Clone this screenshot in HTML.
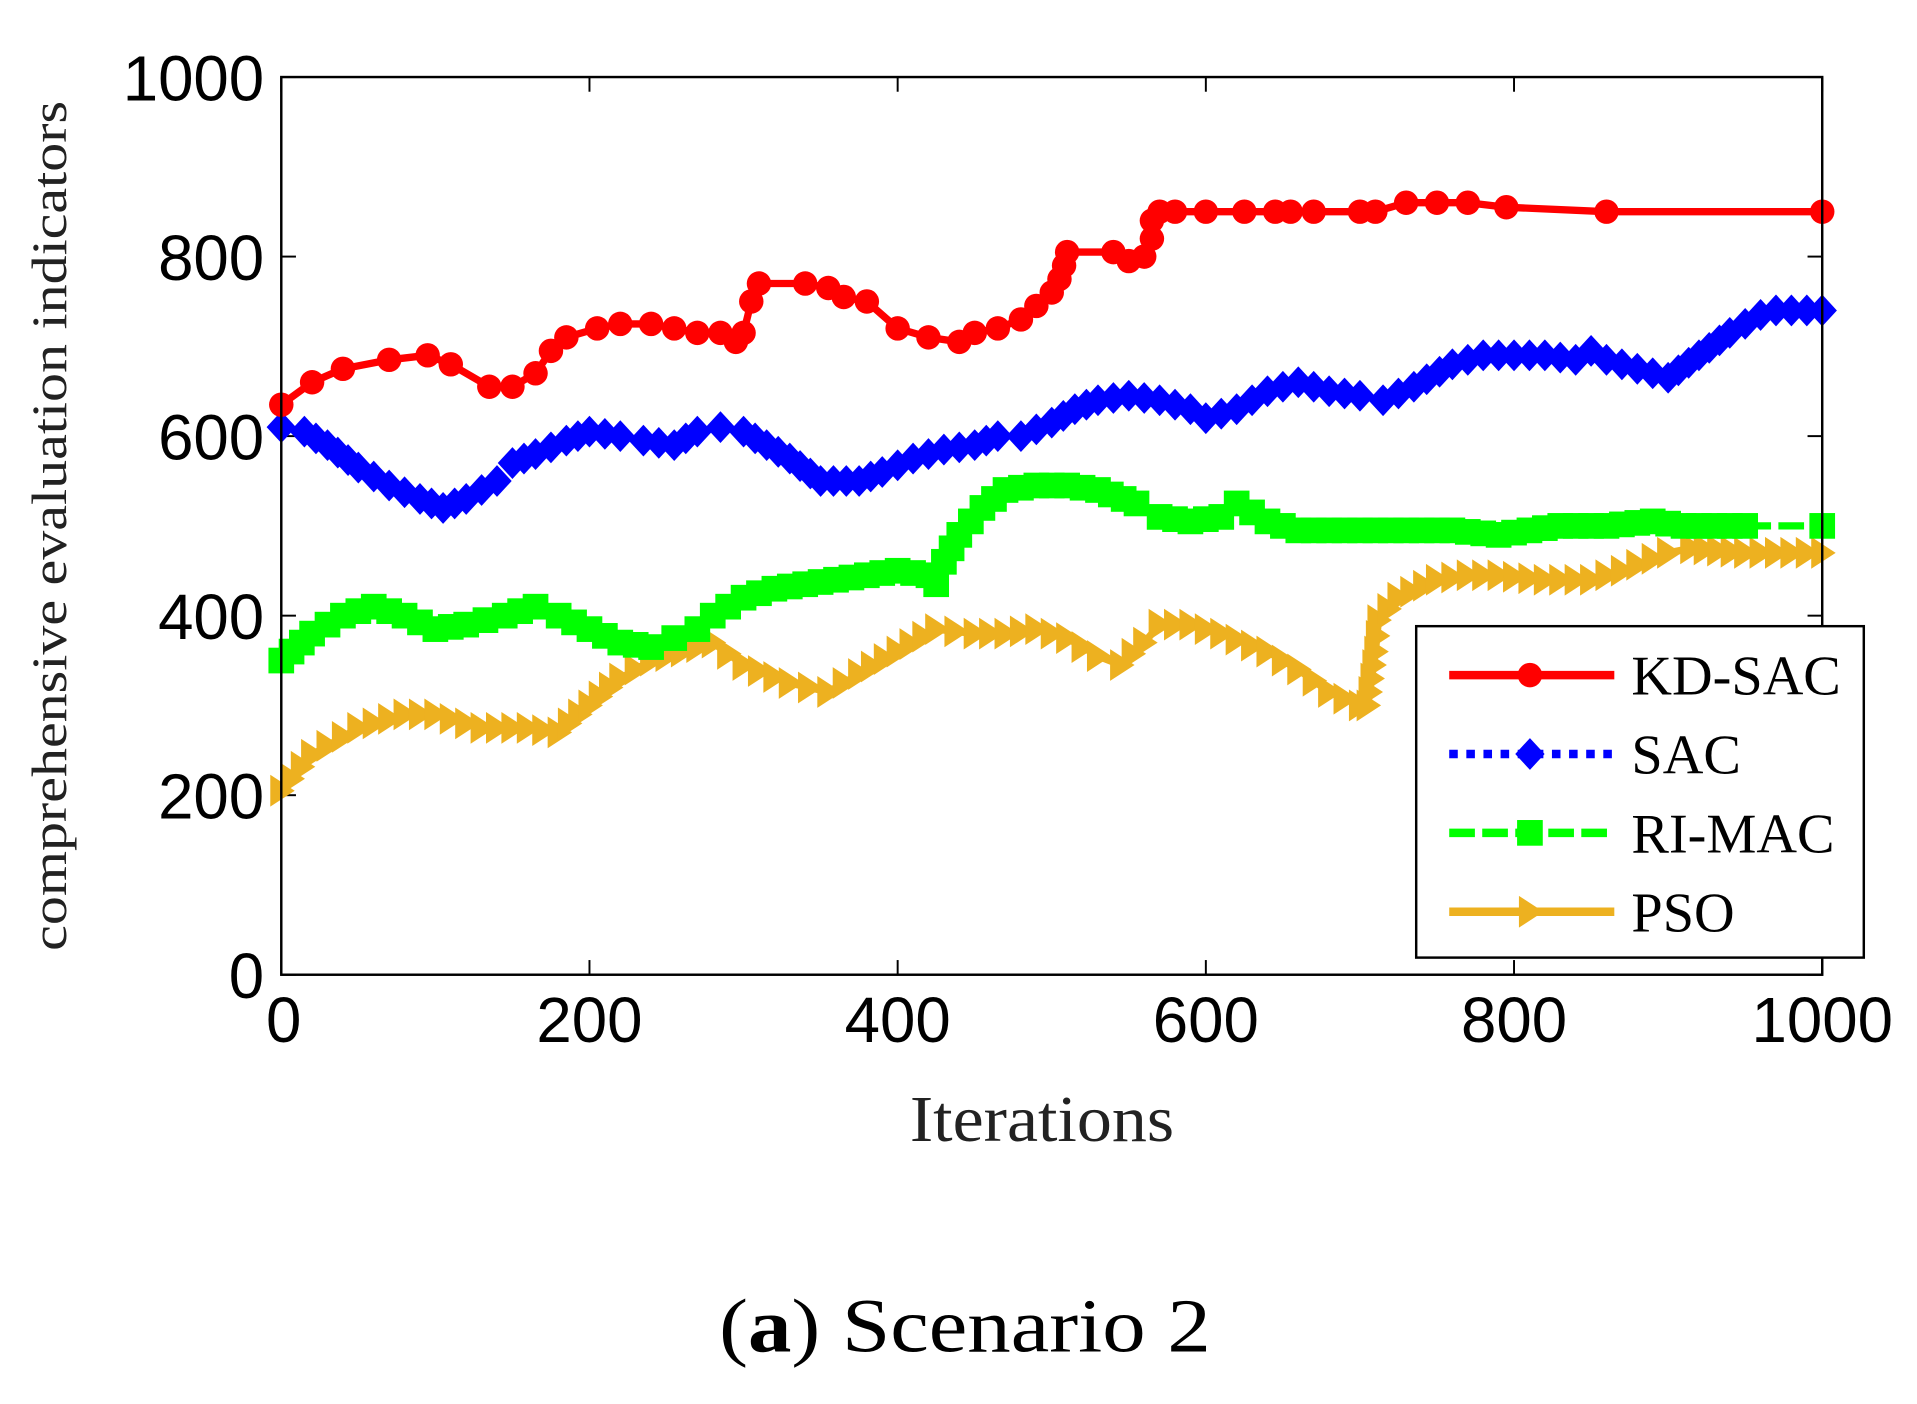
<!DOCTYPE html>
<html><head><meta charset="utf-8"><style>
html,body{margin:0;padding:0;background:#fff;}
svg{display:block;}
</style></head><body>
<svg id="s" xmlns="http://www.w3.org/2000/svg" width="1917" height="1404" viewBox="0 0 1567.5 1148" preserveAspectRatio="none">
<rect x="0" y="0" width="1567.5" height="1148" fill="#fff"/>
<g id="ticks" stroke="#000" stroke-width="1.6" fill="none"></g>
<g id="series"></g>
<rect x="230" y="63" width="1260" height="734" fill="none" stroke="#000" stroke-width="2"/>
<g font-family="Liberation Sans, Arial, sans-serif" font-size="52" fill="#000" id="lbl"></g>
<text x="54" y="430" transform="rotate(-90 54 430)" text-anchor="middle" font-family="Liberation Serif, serif" font-size="41" fill="#222" textLength="695" lengthAdjust="spacingAndGlyphs">comprehensive evaluation indicators</text>
<text x="852" y="933" text-anchor="middle" font-family="Liberation Serif, serif" font-size="54" fill="#222" textLength="216" lengthAdjust="spacingAndGlyphs">Iterations</text>
<text x="789" y="1105" text-anchor="middle" font-family="Liberation Serif, serif" font-size="62" fill="#000" textLength="402" lengthAdjust="spacingAndGlyphs">(<tspan font-weight="bold">a</tspan>) Scenario 2</text>
<g id="legend">
<rect x="1158" y="512" width="366" height="271" fill="#fff" stroke="#000" stroke-width="2"/>
</g>
</svg>
<script>
var NS="http://www.w3.org/2000/svg";
function el(t,a,p){var e=document.createElementNS(NS,t);for(var k in a)e.setAttribute(k,a[k]);(p||document.getElementById('series')).appendChild(e);return e;}
function X(i){return 230+i*1.26;} function Y(v){return 797-v*0.734;}
var tk=document.getElementById('ticks'),lb=document.getElementById('lbl');
for(var i=0;i<=1000;i+=200){var x=X(i);
 el('line',{x1:x,y1:797,x2:x,y2:785},tk);el('line',{x1:x,y1:63,x2:x,y2:75},tk);
 var t=el('text',{x:x+(i==0?2:0),y:852,'text-anchor':'middle'},lb);t.textContent=i;}
for(var v=0;v<=1000;v+=200){var y=Y(v);
 el('line',{x1:230,y1:y,x2:242,y2:y},tk);el('line',{x1:1490,y1:y,x2:1478,y2:y},tk);
 var t=el('text',{x:216,y:y+19,'text-anchor':'end'},lb);t.textContent=v;}
var red=[[0,635],[20,660],[40,675],[70,685],[95,690],[110,680],[135,655],[150,655],[165,670],[175,695],[185,710],[205,720],[220,725],[240,725],[255,720],[270,715],[285,715],[295,705],[300,715],[305,750],[310,770],[340,770],[355,765],[365,755],[380,750],[400,720],[420,710],[440,705],[450,715],[465,720],[480,730],[490,745],[500,760],[505,775],[508,790],[510,805],[540,805],[550,795],[560,800],[565,820],[565,840],[570,850],[580,850],[600,850],[625,850],[645,850],[655,850],[670,850],[700,850],[710,850],[730,860],[750,860],[770,860],[795,855],[860,850],[1000,850]];
var blue=[[0,610],[15,605],[30,590],[50,565],[70,545],[90,530],[105,520],[120,530],[140,550],[150,570],[165,580],[185,595],[200,605],[220,600],[235,595],[255,590],[270,605],[285,610],[300,605],[315,590],[330,575],[350,550],[375,550],[390,560],[410,575],[430,585],[450,590],[465,600],[480,600],[500,615],[515,630],[530,640],[550,645],[570,640],[590,630],[600,620],[620,630],[640,650],[660,660],[680,650],[700,645],[715,640],[735,655],[760,680],[780,690],[800,690],[820,690],[840,685],[850,695],[860,685],[880,675],[900,665],[920,690],[940,715],[960,735],[970,740],[1000,740]];
var green=[[0,350],[20,380],[40,400],[60,410],[80,400],[100,385],[120,390],[145,400],[165,410],[180,400],[200,385],[220,370],[240,365],[255,375],[270,385],[280,400],[300,420],[320,430],[340,435],[360,440],[380,445],[400,450],[420,445],[425,435],[430,460],[440,490],[455,520],[470,540],[490,545],[510,545],[530,540],[555,525],[570,510],[590,505],[610,510],[620,525],[640,505],[660,495],[690,495],[720,495],[760,495],[790,490],[810,495],[830,500],[860,500],[890,505],[910,500],[950,500],[1000,500]];
var gold=[[0,205],[20,245],[50,275],[80,290],[100,290],[130,275],[160,275],[180,270],[200,300],[220,330],[240,350],[260,360],[280,370],[300,345],[330,325],[355,315],[375,335],[400,360],[425,385],[450,380],[470,380],[490,385],[510,375],[530,355],[545,345],[560,370],[570,390],[590,390],[610,380],[640,360],[660,340],[680,315],[700,300],[705,300],[710,360],[712,395],[725,420],[750,440],[770,445],[790,445],[820,440],[850,440],[870,450],[900,470],[915,475],[950,470],[1000,470]];
function pts(d){return d.map(function(p){return [X(p[0]),Y(p[1])];});}
function markers(P,sp,maxSeg){var out=[];for(var k=0;k<P.length-1;k++){var a=P[k],b=P[k+1];out.push(a);var L=Math.hypot(b[0]-a[0],b[1]-a[1]);if(L>maxSeg)continue;var n=Math.floor(L/sp);for(var j=1;j<n;j++){out.push([a[0]+(b[0]-a[0])*j/n,a[1]+(b[1]-a[1])*j/n]);}}out.push(P[P.length-1]);return out;}
function mk(type,x,y,c,g){
 if(type=='o')el('circle',{cx:x,cy:y,r:10,fill:c},g);
 else if(type=='d')el('polygon',{points:(x)+','+(y-13)+' '+(x+12)+','+y+' '+x+','+(y+13)+' '+(x-12)+','+y,fill:c},g);
 else if(type=='s')el('rect',{x:x-10.5,y:y-10.5,width:21,height:21,fill:c},g);
 else el('polygon',{points:(x-9)+','+(y-13)+' '+(x+11)+','+y+' '+(x-9)+','+(y+13),fill:c},g);}
function series(d,c,dash,type,sp,maxSeg){var P=pts(d);var g=el('g',{});
 el('polyline',{points:P.map(function(p){return p.join(',');}).join(' '),fill:'none',stroke:c,'stroke-width':6,'stroke-dasharray':dash||'none','stroke-linejoin':'round'},g);
 markers(P,sp,maxSeg).forEach(function(p){mk(type,p[0],p[1],c,g);});}
series(gold,'#EDB120',null,'t',11,70);
series(green,'#00FF00','21,6','s',11,60);
series(blue,'#0000FF','7,7','d',10,45);
series(red,'#FF0000',null,'o',1000,1000);
var lg=document.getElementById('legend');
var items=[['KD-SAC','#FF0000',null,'o'],['SAC','#0000FF','7,7','d'],['RI-MAC','#00FF00','21,6','s'],['PSO','#EDB120',null,'t']];
items.forEach(function(it,i){var y=552+i*64.5;
 el('line',{x1:1185,y1:y,x2:1320,y2:y,stroke:it[1],'stroke-width':7,'stroke-dasharray':it[2]||'none'},lg);
 mk(it[3],1251,y,it[1],lg);
 var t=el('text',{x:1334,y:y+16,'font-family':'Liberation Serif, serif','font-size':46,fill:'#000'},lg);t.textContent=it[0];});
</script>
</body></html>
